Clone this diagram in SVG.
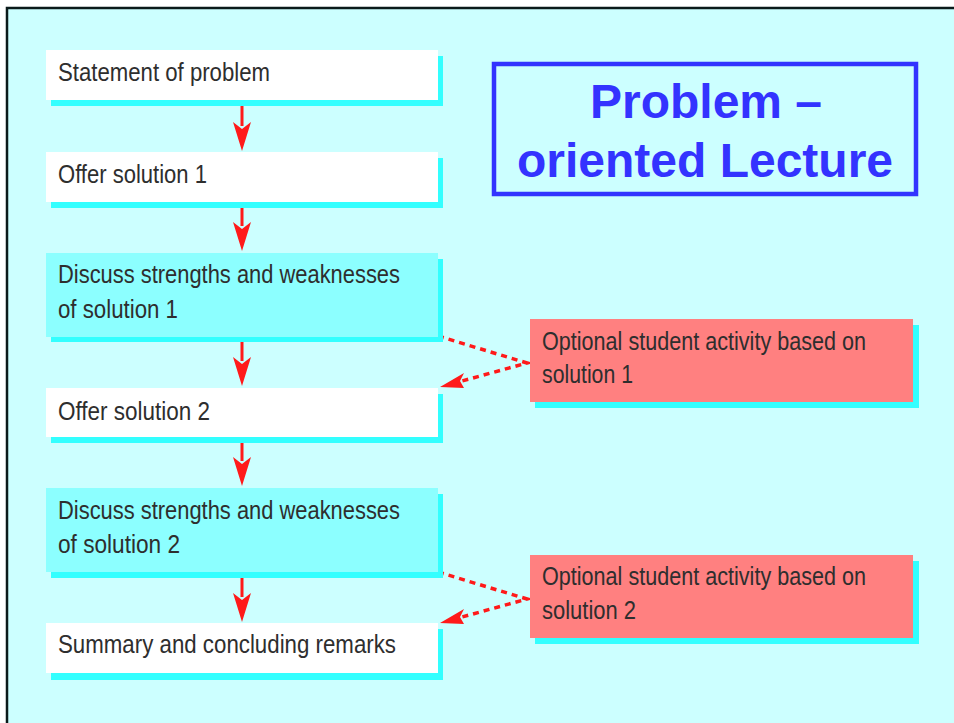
<svg xmlns="http://www.w3.org/2000/svg" width="954" height="723" viewBox="0 0 954 723">
<style>
.t{font-family:"Liberation Sans",Arial,sans-serif;font-size:26px;fill:#2E2E2E;}
.sh{fill:#33FFFF;}
.wb{fill:#FFFFFF;}
.cb{fill:#8CFFFF;}
.pb{fill:#FF8080;}
.ar{stroke:#FF1A1A;stroke-width:3;fill:none;}
.da{stroke:#FF1A1A;stroke-width:3.5;fill:none;stroke-dasharray:6 5;}
.title{font-family:"Liberation Sans",Arial,sans-serif;font-size:48px;font-weight:bold;fill:#3333FF;text-anchor:middle;}
</style>
<rect x="0" y="0" width="954" height="723" fill="#FFFFFF"/>
<rect x="7" y="8" width="960" height="730" fill="#CCFFFF" stroke="#0A1A1A" stroke-width="2.5"/>

<g id="connectors">
<line class="ar" x1="242" y1="100" x2="242" y2="126"/>
<path d="M233,122 L242,129 L251,122 L242,151 Z" fill="#FF1A1A"/>
<line class="ar" x1="242" y1="202" x2="242" y2="226"/>
<path d="M233,222 L242,229 L251,222 L242,251 Z" fill="#FF1A1A"/>
<line class="ar" x1="242" y1="337" x2="242" y2="361"/>
<path d="M233,357 L242,364 L251,357 L242,386 Z" fill="#FF1A1A"/>
<line class="ar" x1="242" y1="437" x2="242" y2="461"/>
<path d="M233,457 L242,464 L251,457 L242,486 Z" fill="#FF1A1A"/>
<line class="ar" x1="242" y1="572" x2="242" y2="597"/>
<path d="M233,593 L242,600 L251,593 L242,622 Z" fill="#FF1A1A"/>
<polyline class="da" points="438,336 527,363 462,381"/>
<path d="M440,387 L464,373 L460,381 L464,388 Z" fill="#FF1A1A"/>
<polyline class="da" points="438,572 527,599 462,617"/>
<path d="M440,623 L464,609 L460,617 L464,624 Z" fill="#FF1A1A"/>
</g>

<g id="n1">
<rect class="sh" x="51" y="56" width="392" height="50"/>
<rect class="wb" x="46" y="50" width="392" height="50"/>
<text class="t" x="58" y="81" textLength="212" lengthAdjust="spacingAndGlyphs">Statement of problem</text>
</g>
<g id="n2">
<rect class="sh" x="51" y="158" width="392" height="50"/>
<rect class="wb" x="46" y="152" width="392" height="50"/>
<text class="t" x="58" y="183" textLength="149" lengthAdjust="spacingAndGlyphs">Offer solution 1</text>
</g>
<g id="n3">
<rect class="sh" x="51" y="259" width="392" height="83"/>
<rect class="cb" x="46" y="253" width="392" height="84"/>
<text class="t" x="58" y="283" textLength="342" lengthAdjust="spacingAndGlyphs">Discuss strengths and weaknesses</text>
<text class="t" x="58" y="318" textLength="120" lengthAdjust="spacingAndGlyphs">of solution 1</text>
</g>
<g id="n4">
<rect class="sh" x="51" y="394" width="392" height="49"/>
<rect class="wb" x="46" y="388" width="392" height="49"/>
<text class="t" x="58" y="420" textLength="152" lengthAdjust="spacingAndGlyphs">Offer solution 2</text>
</g>
<g id="n5">
<rect class="sh" x="51" y="494" width="392" height="84"/>
<rect class="cb" x="46" y="488" width="392" height="84"/>
<text class="t" x="58" y="519" textLength="342" lengthAdjust="spacingAndGlyphs">Discuss strengths and weaknesses</text>
<text class="t" x="58" y="553" textLength="122" lengthAdjust="spacingAndGlyphs">of solution 2</text>
</g>
<g id="n6">
<rect class="sh" x="51" y="629" width="392" height="51"/>
<rect class="wb" x="46" y="623" width="392" height="50"/>
<text class="t" x="58" y="653" textLength="338" lengthAdjust="spacingAndGlyphs">Summary and concluding remarks</text>
</g>
<g id="p1">
<rect class="sh" x="535" y="325" width="384" height="83"/>
<rect class="pb" x="530" y="319" width="383" height="83"/>
<text class="t" x="542" y="350" textLength="324" lengthAdjust="spacingAndGlyphs">Optional student activity based on</text>
<text class="t" x="542" y="383" textLength="91" lengthAdjust="spacingAndGlyphs">solution 1</text>
</g>
<g id="p2">
<rect class="sh" x="535" y="561" width="384" height="83"/>
<rect class="pb" x="530" y="555" width="383" height="83"/>
<text class="t" x="542" y="585" textLength="324" lengthAdjust="spacingAndGlyphs">Optional student activity based on</text>
<text class="t" x="542" y="619" textLength="94" lengthAdjust="spacingAndGlyphs">solution 2</text>
</g>
<g id="title">
<rect x="494" y="64" width="422" height="130" fill="none" stroke="#3333FF" stroke-width="4.5"/>
<text class="title" x="706" y="118">Problem –</text>
<text class="title" x="705" y="177">oriented Lecture</text>
</g>
</svg>
